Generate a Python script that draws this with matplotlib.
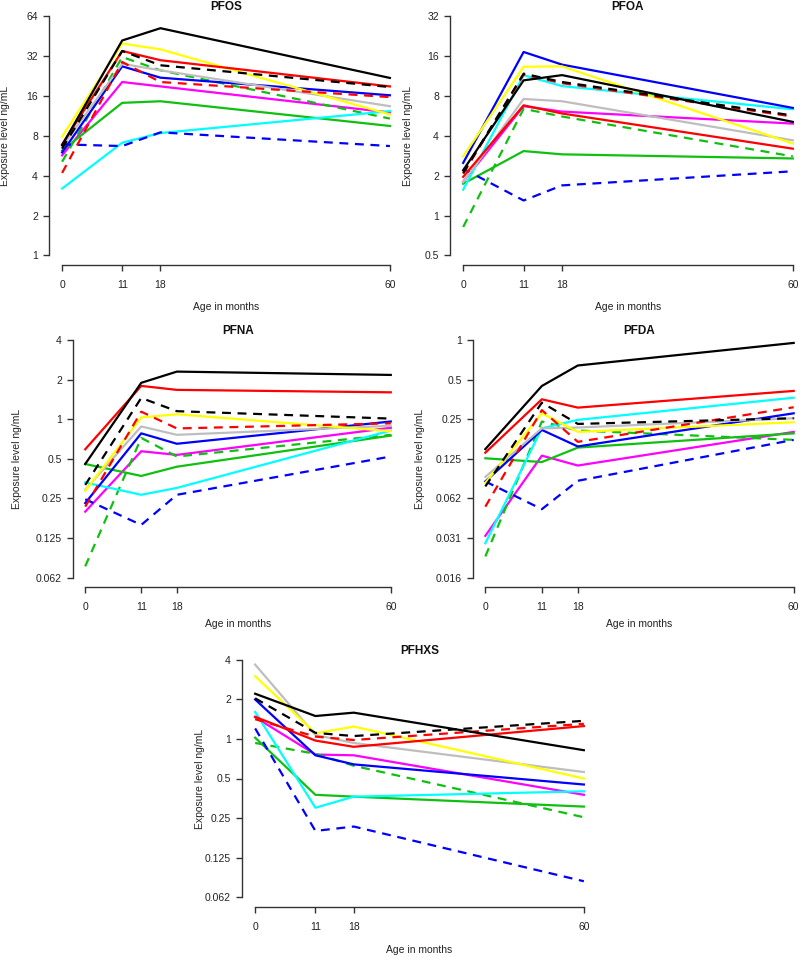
import matplotlib
matplotlib.use("Agg")
import matplotlib.pyplot as plt
from matplotlib.ticker import FixedLocator, FixedFormatter, NullLocator

plt.rcParams['font.family'] = ['Liberation Sans', 'DejaVu Sans']

months = [0, 11, 18, 60]
month_labels = ['0', '11', '18', '60']

series_colors = ['black', 'black', '#FF0000', '#FF0000', '#FFFF00', '#BEBEBE',
                 '#0000FF', '#0000FF', '#00FFFF', '#10C010', '#10C010', '#FF00FF']
series_styles = ['-', '--', '-', '--', '-', '-', '-', '--', '-', '-', '--', '-']

pfos = [[6.8, 42, 52, 21.9],
        [6.4, 35, 27.3, 18.7],
        [6.9, 35, 29.8, 18.9],
        [4.2, 28.9, 20.4, 15.7],
        [7.9, 39.8, 36, 11.6],
        [6.6, 28, 25, 13.4],
        [6.0, 26.8, 22, 16.2],
        [6.9, 6.7, 8.5, 6.7],
        [3.2, 7.1, 8.4, 12.3],
        [6.2, 14.2, 14.6, 9.5],
        [5.1, 31.5, 25, 10.8],
        [5.7, 20.4, 18.9, 12.0]]

pfoa = [[2.2, 10.5, 11.5, 5.1],
        [2.1, 11.8, 10.2, 5.7],
        [1.96, 6.8, 5.9, 3.2],
        [2.07, 11.6, 10.0, 5.6],
        [2.8, 13.3, 13.4, 3.5],
        [1.79, 7.6, 7.3, 3.7],
        [2.5, 17.2, 13.8, 6.5],
        [2.26, 1.3, 1.69, 2.16],
        [1.57, 11.5, 9.5, 6.35],
        [1.74, 3.07, 2.9, 2.7],
        [0.82, 6.4, 5.6, 2.8],
        [1.8, 6.7, 6.1, 4.95]]

pfna = [[0.456, 1.89, 2.3, 2.17],
        [0.316, 1.45, 1.15, 1.01],
        [0.59, 1.79, 1.67, 1.6],
        [0.216, 1.14, 0.85, 0.93],
        [0.285, 1.03, 1.09, 0.81],
        [0.29, 0.88, 0.76, 0.89],
        [0.23, 0.78, 0.65, 0.96],
        [0.246, 0.157, 0.266, 0.52],
        [0.33, 0.266, 0.30, 0.82],
        [0.456, 0.37, 0.435, 0.75],
        [0.076, 0.72, 0.52, 0.76],
        [0.198, 0.57, 0.535, 0.86]]

pfda = [[0.148, 0.447, 0.64, 0.95],
        [0.077, 0.334, 0.230, 0.254],
        [0.139, 0.354, 0.306, 0.41],
        [0.054, 0.293, 0.168, 0.308],
        [0.082, 0.277, 0.20, 0.237],
        [0.091, 0.213, 0.216, 0.254],
        [0.084, 0.207, 0.155, 0.277],
        [0.084, 0.0517, 0.085, 0.174],
        [0.0285, 0.213, 0.247, 0.364],
        [0.126, 0.118, 0.152, 0.195],
        [0.0226, 0.24, 0.205, 0.174],
        [0.0324, 0.132, 0.111, 0.20]]

pfhxs = [[2.2, 1.49, 1.58, 0.82],
         [2.03, 1.11, 1.05, 1.37],
         [1.47, 0.97, 0.87, 1.25],
         [1.41, 1.04, 0.98, 1.3],
         [2.99, 1.1, 1.24, 0.5],
         [3.66, 1.07, 0.93, 0.56],
         [1.99, 0.75, 0.64, 0.45],
         [1.2, 0.20, 0.216, 0.083],
         [1.6, 0.30, 0.364, 0.40],
         [1.02, 0.376, 0.364, 0.306],
         [0.93, 0.77, 0.625, 0.254],
         [1.46, 0.76, 0.75, 0.376]]

ticks_pfos = [1, 2, 4, 8, 16, 32, 64]
labels_pfos = ['1', '2', '4', '8', '16', '32', '64']
ticks_pfoa = [0.5, 1, 2, 4, 8, 16, 32]
labels_pfoa = ['0.5', '1', '2', '4', '8', '16', '32']
ticks_pfna = [0.0625, 0.125, 0.25, 0.5, 1, 2, 4]
labels_pfna = ['0.062', '0.125', '0.25', '0.5', '1', '2', '4']
ticks_pfda = [0.015625, 0.03125, 0.0625, 0.125, 0.25, 0.5, 1]
labels_pfda = ['0.016', '0.031', '0.062', '0.125', '0.25', '0.5', '1']
ticks_pfhxs = [0.0625, 0.125, 0.25, 0.5, 1, 2, 4]
labels_pfhxs = ['0.062', '0.125', '0.25', '0.5', '1', '2', '4']

W, H = 800, 957
fig = plt.figure(figsize=(W / 100, H / 100), dpi=100)

# title, data, yticks, ylabels, (left, top, right, bottom) px, ylabel x px, xlabel offset px
panels = [
    ('PFOS', pfos, ticks_pfos, labels_pfos, (49, 6.7, 403, 265), 5, 42),
    ('PFOA', pfoa, ticks_pfoa, labels_pfoa, (450, 6.7, 806, 265), 408, 42),
    ('PFNA', pfna, ticks_pfna, labels_pfna, (73, 330.5, 403, 587), 17, 37),
    ('PFDA', pfda, ticks_pfda, labels_pfda, (473, 330.5, 806, 587), 420, 37),
    ('PFHXS', pfhxs, ticks_pfhxs, labels_pfhxs, (242, 650, 597, 907), 200, 43),
]

axis_col = '#333333'

for title, data, yt, yl, (l, t, r, b), ylab_x, xl_off in panels:
    ax = fig.add_axes([l / W, 1 - b / H, (r - l) / W, (b - t) / H])
    ax.set_yscale('log', base=2)
    for vals, c, ls in reversed(list(zip(data, series_colors, series_styles))):
        if ls == '--':
            ax.plot(months, vals, color=c, lw=1.6, linestyle=(0, (4, 3)))
        else:
            ax.plot(months, vals, color=c, lw=1.6)
    ax.set_xlim(-2.4, 62.4)
    n = 6
    f = 2 ** (0.04 * n)
    ax.set_ylim(yt[0] / f, yt[-1] * f)
    ax.yaxis.set_major_locator(FixedLocator(yt))
    ax.yaxis.set_major_formatter(FixedFormatter(yl))
    ax.yaxis.set_minor_locator(NullLocator())
    ax.set_xticks(months)
    ax.set_xticklabels(month_labels)
    for s in ['top', 'right']:
        ax.spines[s].set_visible(False)
    ax.spines['left'].set_bounds(yt[0], yt[-1])
    ax.spines['bottom'].set_bounds(0, 60)
    for s in ['left', 'bottom']:
        ax.spines[s].set_color(axis_col)
        ax.spines[s].set_linewidth(1.0)
    ax.tick_params(axis='both', colors=axis_col, labelcolor='#222222',
                   length=4.5, width=1.0, labelsize=7.5)
    ax.tick_params(axis='y', pad=3.5)
    ax.tick_params(axis='x', pad=6)
    ax.patch.set_visible(False)
    cx = (l + r) / 2
    fig.text(cx / W, 1 - (t + 0.5) / H, title, ha='center', va='center',
             fontsize=8.5, fontweight='bold', color='#111111')
    fig.text(cx / W, 1 - (b + xl_off) / H, 'Age in months', ha='center', va='center',
             fontsize=7.5, color='#222222')
    fig.text(ylab_x / W, 1 - ((t + b) / 2) / H, 'Exposure level ng/mL', ha='center',
             va='center', rotation=90, fontsize=7.5, color='#222222')

fig.savefig('out.png', dpi=100)
